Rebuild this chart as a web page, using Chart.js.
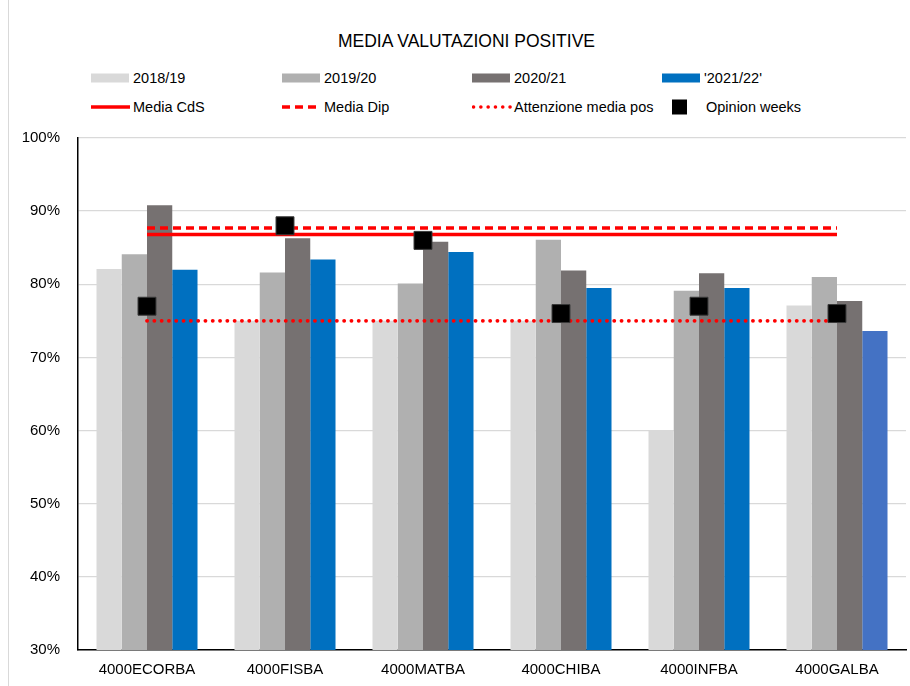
<!DOCTYPE html>
<html>
<head>
<meta charset="utf-8">
<script src="https://cdn.jsdelivr.net/npm/chart.js@4.4.0/dist/chart.umd.min.js"></script>
<style>
  body { margin: 0; background: #fff; font-family: 'Liberation Sans', Arial, sans-serif; }
  #wrap { position: relative; width: 910px; height: 686px; overflow: hidden; }
  #frame { position: absolute; left: 8px; top: 0; width: 0; height: 686px; border-left: 1px solid #D9D9D9; }
  #title { position: absolute; top: 31px; left: 0; width: 933px; text-align: center; font-size: 17.5px; color: #000; }
  #legend { position: absolute; left: 0; top: 0; }
  .item { position: absolute; height: 16px; font-size: 14.5px; color: #000; white-space: nowrap; }
  .item svg { position: absolute; left: 0; top: 0; }
  .item span { position: absolute; top: -1px; line-height: 18px; }
  canvas { position: absolute; left: 0; top: 0; }
</style>
</head>
<body>
<div id="wrap">
  <div id="frame"></div>
  <div id="title">MEDIA VALUTAZIONI POSITIVE</div>
  <div id="legend"></div>
  <canvas id="chart" width="910" height="686"></canvas>
</div>
<script>
const categories = ['4000ECORBA', '4000FISBA', '4000MATBA', '4000CHIBA', '4000INFBA', '4000GALBA'];

const anno1819 = [82.1, 75.0, 75.0, 75.0, 60.0, 77.1];
const anno1920 = [84.1, 81.6, 80.1, 86.1, 79.1, 81.0];
const anno2021 = [90.8, 86.3, 85.8, 81.9, 81.5, 77.7];
const anno2122 = [82.0, 83.4, 84.4, 79.5, 79.5, 73.6];

const mediaCds = [86.8, 86.8, 86.8, 86.8, 86.8, 86.8];
const mediaDip = [87.7, 87.7, 87.7, 87.7, 87.7, 87.7];
const attenzioneMediaPos = [75, 75, 75, 75, 75, 75];
const opinionWeeks = [77, 88, 86, 76, 77, 76];

const yTicks = [30, 40, 50, 60, 70, 80, 90, 100];

const RED = '#FF0000';

const datasets = [
    { type: 'bar', label: '2018/19', data: anno1819, backgroundColor: '#D9D9D9', order: 3 },
    { type: 'bar', label: '2019/20', data: anno1920, backgroundColor: '#B0B0B0', order: 3 },
    { type: 'bar', label: '2020/21', data: anno2021, backgroundColor: '#767171', order: 3 },
    { type: 'bar', label: "'2021/22'", data: anno2122,
      backgroundColor: ['#0070C0', '#0070C0', '#0070C0', '#0070C0', '#0070C0', '#4472C4'], order: 3 },
    { type: 'line', label: 'Media CdS', data: mediaCds, borderColor: RED, borderWidth: 3.5,
      pointRadius: 0, fill: false, order: 2 },
    { type: 'line', label: 'Media Dip', data: mediaDip, borderColor: RED, borderWidth: 3.5,
      borderDash: [8, 5], pointRadius: 0, fill: false, order: 2 },
    { type: 'line', label: 'Attenzione media pos', data: attenzioneMediaPos, borderColor: RED,
      borderWidth: 3.8, borderDash: [0.1, 7.2], borderCapStyle: 'round', pointRadius: 0, fill: false, order: 2 },
    { type: 'line', label: 'Opinion weeks', data: opinionWeeks, showLine: false, pointStyle: 'rect',
      pointRadius: 12.7, pointBackgroundColor: '#000', pointBorderColor: '#3a3a3a', pointBorderWidth: 1, order: 1 }
];

const chart = new Chart(document.getElementById('chart').getContext('2d'), {
    data: { labels: categories, datasets: datasets },
    options: {
        responsive: false,
        animation: false,
        events: [],
        layout: { autoPadding: false, padding: { left: 0, top: 138, right: 4, bottom: 0 } },
        datasets: { bar: { categoryPercentage: 0.732, barPercentage: 1.0 } },
        scales: {
            x: {
                grid: { display: false, drawTicks: false },
                border: { color: '#000', width: 1.5 },
                ticks: { color: '#000', font: { family: "'Liberation Sans', Arial", size: 15 }, padding: 11, maxRotation: 0 },
                afterFit: (s) => { s.height = 36; }
            },
            y: {
                min: 30,
                max: 100,
                afterBuildTicks: (s) => { s.ticks = yTicks.map(v => ({ value: v })); },
                grid: { color: '#D9D9D9', lineWidth: 1.3, drawTicks: false },
                border: { color: '#000', width: 1.5 },
                ticks: { color: '#000', font: { family: "'Liberation Sans', Arial", size: 15 }, padding: 18,
                         callback: (v) => v + '%' },
                afterFit: (s) => { s.width = 78; }
            }
        },
        plugins: { legend: { display: false }, tooltip: { enabled: false } }
    }
});

// html legend in Excel-like grid (4 columns, 2 rows)
const colX = [91, 282, 472, 662];
const rowY = [70, 99];
const legendEl = document.getElementById('legend');
chart.data.datasets.forEach((ds, i) => {
    const col = i % 4, row = Math.floor(i / 4);
    let sym = '', textX = 42;
    if (ds.type === 'bar') {
        const c = Array.isArray(ds.backgroundColor) ? ds.backgroundColor[0] : ds.backgroundColor;
        sym = `<svg width="40" height="16"><rect x="0" y="3.5" width="38" height="9" fill="${c}"/></svg>`;
    } else if (ds.showLine === false) {
        sym = `<svg width="40" height="16"><rect x="10" y="0.5" width="15" height="15" fill="#000"/></svg>`;
        textX = 44;
    } else {
        const dash = ds.borderDash ? `stroke-dasharray="${ds.borderDash.join(',')}"` : '';
        const cap = ds.borderCapStyle === 'round' ? 'stroke-linecap="round"' : '';
        sym = `<svg width="40" height="16"><line x1="${cap ? 1.5 : 0}" y1="8" x2="39" y2="8" stroke="${ds.borderColor}" stroke-width="3.5" ${dash} ${cap}/></svg>`;
    }
    const div = document.createElement('div');
    div.className = 'item';
    div.style.left = colX[col] + 'px';
    div.style.top = rowY[row] + 'px';
    div.innerHTML = sym + `<span style="left:${textX}px">${ds.label}</span>`;
    legendEl.appendChild(div);
});
</script>
</body>
</html>
